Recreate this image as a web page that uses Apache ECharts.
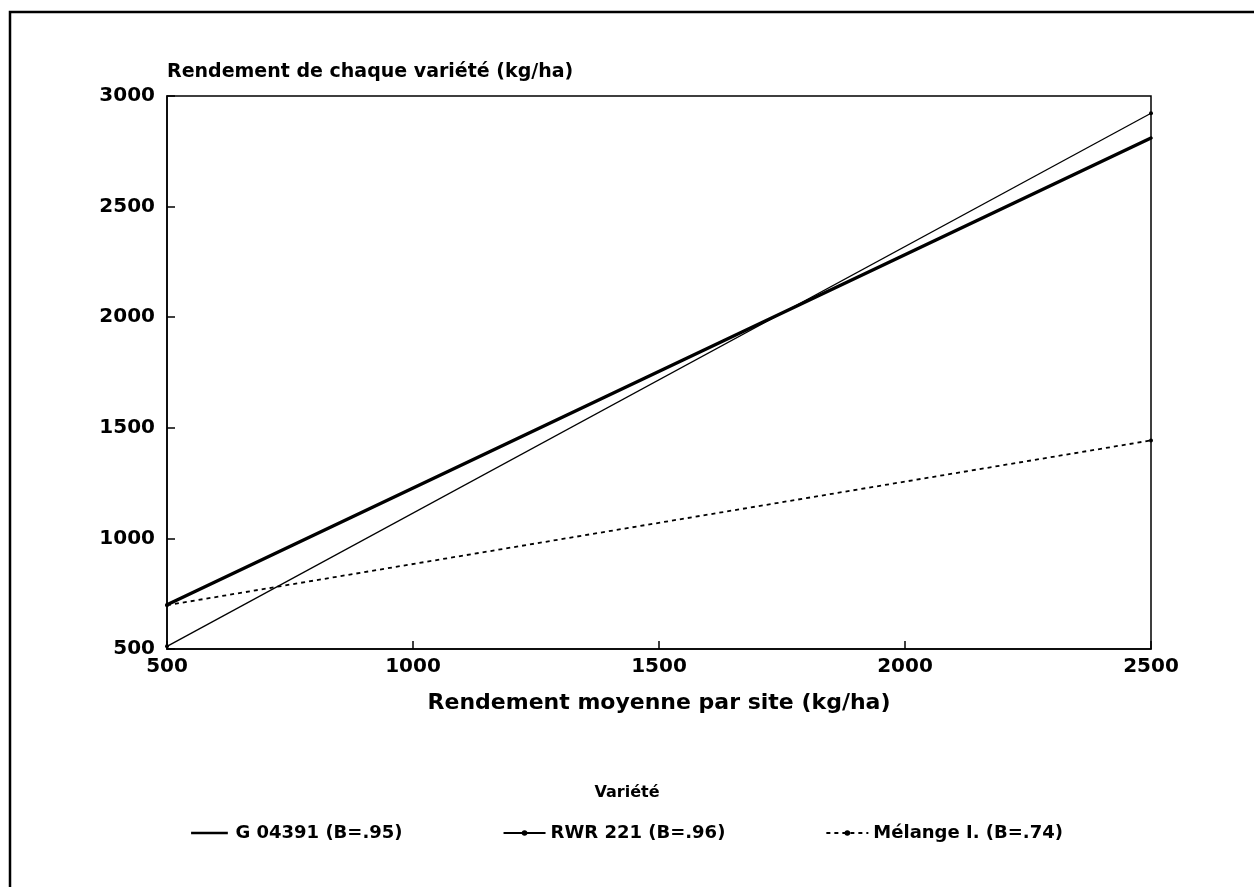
<!DOCTYPE html>
<html>
<head>
<meta charset="utf-8">
<script src="https://cdn.jsdelivr.net/npm/echarts@6/dist/echarts.min.js"></script>
<style>
  html, body { margin: 0; padding: 0; background: #fff; }
  #chart { width: 1254px; height: 887px; }
</style>
</head>
<body>
<div id="chart"></div>
<script>
// moyenne par site (x) et rendement de chaque variete (y)
var sites = [500, 2500];
var g04391 = [700, 2810];
var rwr221 = [512, 2922];
var melange = [698, 1443];
var names = ['G 04391 (B=.95)', 'RWR 221 (B=.96)', 'Mélange I. (B=.74)'];

var chrt = echarts.init(document.getElementById('chart'));
var font = 'DejaVu Sans, Liberation Sans, sans-serif';

function pairs(ys){
    return sites.map(function(x, i){ return [x, ys[i]]; });
}
function plain(v){
    return String(v);
}

var option = {
    backgroundColor: '#fff',
    animation: false,
    textStyle: { fontFamily: font, color: '#000' },
    title: {
        text: 'Variété',
        left: 'center',
        top: 780,
        textStyle: { fontFamily: font, fontSize: 16, fontWeight: 'bold', color: '#000' }
    },
    graphic: [{
        type: 'rect',
        shape: { x: 10, y: 12, width: 1260, height: 890 },
        style: { fill: null, stroke: '#000', lineWidth: 2.5 },
        silent: true
    }],
    legend: {
        top: 819,
        left: 'center',
        itemWidth: 42,
        itemHeight: 7,
        itemGap: 100,
        textStyle: { fontFamily: font, fontSize: 18, fontWeight: 'bold', color: '#000' },
        data: [
            // trait epais seul, sans point
            { name: names[0], icon: 'path://M0,0M0,2.5H42V5.5H0ZM42,8', itemStyle: { color: '#000' } },
            { name: names[1] },
            { name: names[2] }
        ]
    },
    grid: {
        left: 167, top: 96, right: 103, bottom: 238,
        show: true, borderColor: '#000', borderWidth: 1.5
    },
    xAxis: {
        type: 'value',
        min: 500, max: 2500, interval: 500,
        name: 'Rendement moyenne par site (kg/ha)',
        nameLocation: 'middle',
        nameGap: 43,
        nameTextStyle: { fontFamily: font, fontSize: 22, fontWeight: 'bold', color: '#000' },
        axisLine: { lineStyle: { color: '#000', width: 1.5 } },
        axisTick: { inside: true, length: 8, lineStyle: { color: '#000', width: 1.5 } },
        axisLabel: { fontFamily: font, fontSize: 20, fontWeight: 'bold', color: '#000', margin: 8, formatter: plain },
        splitLine: { show: false }
    },
    yAxis: {
        type: 'value',
        min: 500, max: 3000, interval: 500,
        name: 'Rendement de chaque variété (kg/ha)',
        nameLocation: 'end',
        nameGap: 14,
        nameTextStyle: { fontFamily: font, fontSize: 19, fontWeight: 'bold', color: '#000', align: 'left' },
        axisLine: { lineStyle: { color: '#000', width: 1.5 } },
        axisTick: { inside: true, length: 8, lineStyle: { color: '#000', width: 1.5 } },
        axisLabel: { fontFamily: font, fontSize: 20, fontWeight: 'bold', color: '#000', margin: 12, formatter: plain },
        splitLine: { show: false }
    },
    series: [{
        name: names[0],
        type: 'line',
        data: pairs(g04391),
        symbol: 'none',
        itemStyle: { color: '#000' },
        lineStyle: { color: '#000', width: 3.4, cap: 'round' }
    }, {
        name: names[1],
        type: 'line',
        data: pairs(rwr221),
        symbol: 'circle', symbolSize: 4,
        itemStyle: { color: '#000' },
        lineStyle: { color: '#000', width: 1.3 }
    }, {
        name: names[2],
        type: 'line',
        data: pairs(melange),
        symbol: 'circle', symbolSize: 4,
        itemStyle: { color: '#000' },
        lineStyle: { color: '#000', width: 1.8, type: [4, 4] }
    }]
};
chrt.setOption(option);
</script>
</body>
</html>
